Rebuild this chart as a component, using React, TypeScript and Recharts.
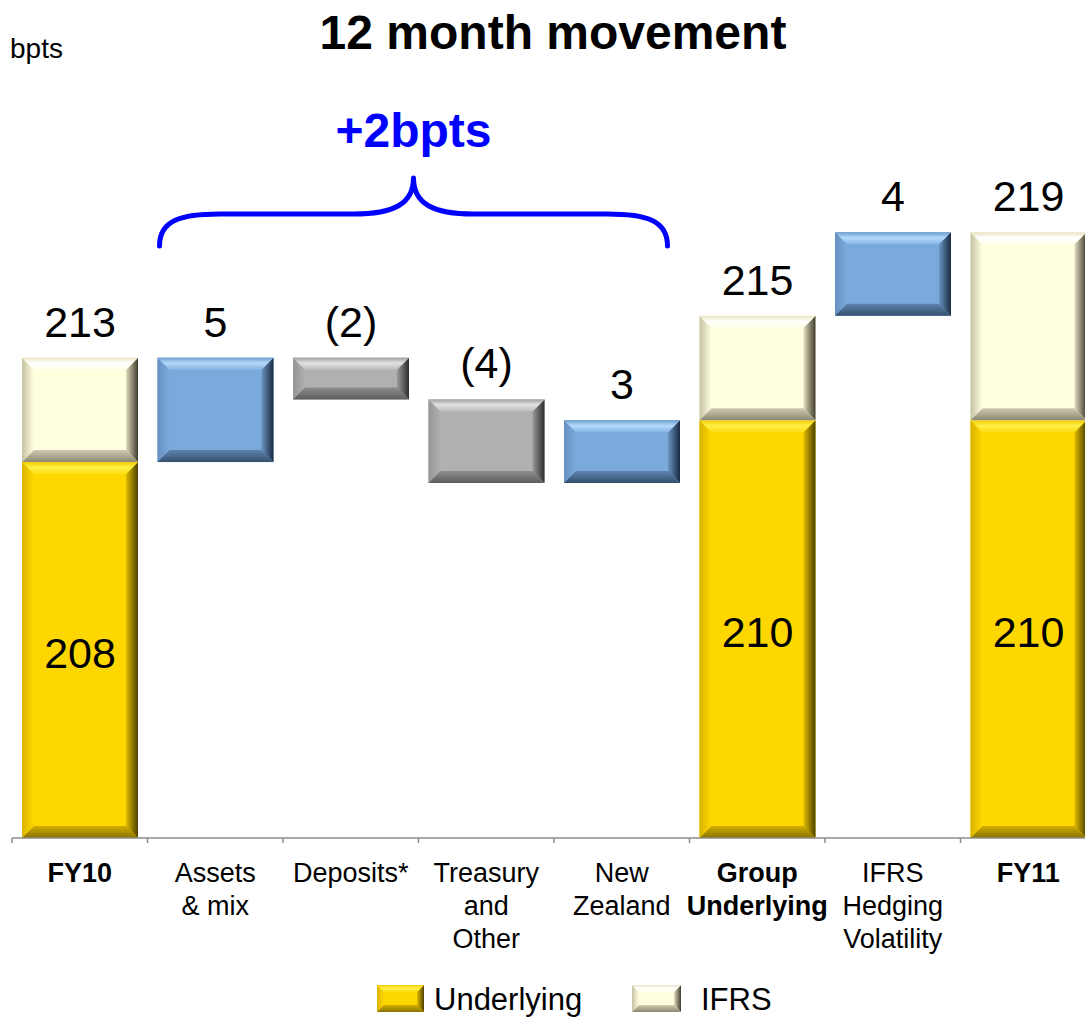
import React from "react";
import { BarChart, Bar, XAxis, YAxis, LabelList } from "recharts";

// 12 month movement waterfall, bpts
const categories = [
  "FY10",
  "Assets & mix",
  "Deposits*",
  "Treasury and Other",
  "New Zealand",
  "Group Underlying",
  "IFRS Hedging Volatility",
  "FY11",
];
const categoryLines = [
  ["FY10"],
  ["Assets", "& mix"],
  ["Deposits*"],
  ["Treasury", "and", "Other"],
  ["New", "Zealand"],
  ["Group", "Underlying"],
  ["IFRS", "Hedging", "Volatility"],
  ["FY11"],
];
const boldCategories = ["FY10", "Group Underlying", "FY11"];

const underlying = [208, null, null, null, null, 210, null, 210];
const ifrs = [5, null, null, null, null, 5, null, 9];
const movements = [null, 5, -2, -4, 3, null, 4, null];
// IFRS hedging sits on top of the full total, the others move the underlying level
const movementOnTotal = [false, false, false, false, false, false, true, false];

const AXIS_MIN = 190;
const AXIS_MAX = 225;

const CHART_W = 1100;
const CHART_H = 1022;
const MARGIN = { top: 107, right: 4, left: 12, bottom: 64 };
const XAXIS_H = 120;
const AXIS_Y = CHART_H - MARGIN.bottom - XAXIS_H;
const BAND = (CHART_W - MARGIN.left - MARGIN.right) / categories.length;
const FONT = "'Liberation Sans', Arial, Helvetica, sans-serif";

type Kind = "under" | "ifrs" | "up" | "down";

let level = 0;
let total = 0;
const rows = categories.map((name, i) => {
  const u = underlying[i];
  if (u != null) {
    level = u;
    total = u + (ifrs[i] ?? 0);
    return {
      name,
      main: [AXIS_MIN, u],
      cap: [u, total],
      kind: "under" as Kind,
      inner: String(u),
      top: String(total),
    };
  }
  const m = movements[i] as number;
  const start = movementOnTotal[i] ? total : level;
  const end = start + m;
  if (movementOnTotal[i]) total = end;
  else level = end;
  return {
    name,
    main: [Math.min(start, end), Math.max(start, end)],
    cap: null,
    kind: (m >= 0 ? "up" : "down") as Kind,
    inner: "",
    top: m >= 0 ? String(m) : `(${-m})`,
  };
});

const palette: Record<Kind, { base: string; top: [string, string, string]; left: [string, string]; right: [string, string]; bottom: [string, string] }> = {
  under: {
    base: "#FFD700",
    top: ["#F2CC00", "#FFF04A", "#FFDD10"],
    left: ["#D9B400", "#FFD700"],
    right: ["#E0BC00", "#4E4000"],
    bottom: ["#D0AE00", "#8A7200"],
  },
  ifrs: {
    base: "#FFFFE0",
    top: ["#E8E4C4", "#FFFFFF", "#FFFFE8"],
    left: ["#C6C2A4", "#FFFFE0"],
    right: ["#E2DEC0", "#403C2E"],
    bottom: ["#CFCBB0", "#8C8872"],
  },
  up: {
    base: "#7AAADC",
    top: ["#6E9CCC", "#B4DAFA", "#86B4E4"],
    left: ["#6890C0", "#7AAADC"],
    right: ["#6A94C2", "#1A2A40"],
    bottom: ["#5E82AE", "#34506E"],
  },
  down: {
    base: "#B0B0B0",
    top: ["#A0A0A0", "#E2E2E2", "#BBBBBB"],
    left: ["#959595", "#B0B0B0"],
    right: ["#9A9A9A", "#2C2C2C"],
    bottom: ["#8E8E8E", "#5E5E5E"],
  },
};

const kinds: Kind[] = ["under", "ifrs", "up", "down"];

function GradientDefs() {
  return (
    <svg width={0} height={0} style={{ position: "absolute" }}>
      <defs>
        {kinds.map((k) => {
          const p = palette[k];
          return (
            <React.Fragment key={k}>
              <linearGradient id={`${k}-top`} x1="0" y1="0" x2="0" y2="1">
                <stop offset="0" stopColor={p.top[0]} />
                <stop offset="0.45" stopColor={p.top[1]} />
                <stop offset="1" stopColor={p.top[2]} />
              </linearGradient>
              <linearGradient id={`${k}-left`} x1="0" y1="0" x2="1" y2="0">
                <stop offset="0" stopColor={p.left[0]} />
                <stop offset="1" stopColor={p.left[1]} />
              </linearGradient>
              <linearGradient id={`${k}-right`} x1="0" y1="0" x2="1" y2="0">
                <stop offset="0" stopColor={p.right[0]} />
                <stop offset="1" stopColor={p.right[1]} />
              </linearGradient>
              <linearGradient id={`${k}-bottom`} x1="0" y1="0" x2="0" y2="1">
                <stop offset="0" stopColor={p.bottom[0]} />
                <stop offset="1" stopColor={p.bottom[1]} />
              </linearGradient>
            </React.Fragment>
          );
        })}
      </defs>
    </svg>
  );
}

function Bevel({ x, y, w, h, kind, size = 12 }: { x: number; y: number; w: number; h: number; kind: Kind; size?: number }) {
  if (!(w > 0) || !(h > 0)) return null;
  const b = Math.min(size, h / 3, w / 3);
  const pts = (a: number[][]) => a.map((p) => p.join(",")).join(" ");
  return (
    <g>
      <rect x={x} y={y} width={w} height={h} fill={palette[kind].base} />
      <polygon points={pts([[x, y], [x + b, y + b], [x + b, y + h - b], [x, y + h]])} fill={`url(#${kind}-left)`} />
      <polygon points={pts([[x + w, y], [x + w, y + h], [x + w - b, y + h - b], [x + w - b, y + b]])} fill={`url(#${kind}-right)`} />
      <polygon points={pts([[x, y + h], [x + w, y + h], [x + w - b, y + h - b], [x + b, y + h - b]])} fill={`url(#${kind}-bottom)`} />
      <polygon points={pts([[x, y], [x + w, y], [x + w - b, y + b], [x + b, y + b]])} fill={`url(#${kind}-top)`} />
    </g>
  );
}

const MainShape = (props: any) => {
  const { x, y, width, height, payload } = props;
  const top = Math.min(y, y + height);
  return <Bevel x={x} y={top} w={width} h={Math.abs(height)} kind={payload.kind} />;
};

const CapShape = (props: any) => {
  const { x, y, width, height, payload } = props;
  if (!payload || !payload.cap) return null;
  const top = Math.min(y, y + height);
  return <Bevel x={x} y={top} w={width} h={Math.abs(height)} kind="ifrs" />;
};

const boxOf = (props: any) => {
  const vb = props.viewBox && props.viewBox.width != null ? props.viewBox : props;
  const top = Math.min(vb.y, vb.y + vb.height);
  return { x: vb.x, y: top, w: vb.width, h: Math.abs(vb.height) };
};

const MainLabel = (props: any) => {
  const r = rows[props.index];
  if (!r) return null;
  const { x, y, w, h } = boxOf(props);
  if (r.kind === "under") {
    return (
      <text x={x + w / 2} y={y + h / 2 + 18} textAnchor="middle" fontSize={43} fontFamily={FONT} fill="#000">
        {r.inner}
      </text>
    );
  }
  return (
    <text x={x + w / 2} y={y - 21} textAnchor="middle" fontSize={43} fontFamily={FONT} fill="#000">
      {r.top}
    </text>
  );
};

const CapLabel = (props: any) => {
  const { value } = props;
  if (value == null || value === "") return null;
  const { x, y, w } = boxOf(props);
  return (
    <text x={x + w / 2} y={y - 21} textAnchor="middle" fontSize={43} fontFamily={FONT} fill="#000">
      {value}
    </text>
  );
};

const CategoryTick = (props: any) => {
  const { x, payload } = props;
  const i = payload.index;
  const lines = categoryLines[i] || [payload.value];
  const bold = boldCategories.includes(categories[i]);
  return (
    <g>
      <line x1={x - BAND / 2} x2={x - BAND / 2} y1={AXIS_Y} y2={AXIS_Y + 5} stroke="#8c8c8c" strokeWidth={1.5} />
      {i === categories.length - 1 && (
        <line x1={x + BAND / 2} x2={x + BAND / 2} y1={AXIS_Y} y2={AXIS_Y + 5} stroke="#8c8c8c" strokeWidth={1.5} />
      )}
      <text x={x} y={AXIS_Y + 44} textAnchor="middle" fontSize={27} fontFamily={FONT} fontWeight={bold ? 700 : 400} fill="#000">
        {lines.map((l: string, k: number) => (
          <tspan key={k} x={x} dy={k === 0 ? 0 : 33}>
            {l}
          </tspan>
        ))}
      </text>
    </g>
  );
};

// brace over the underlying movements (Assets & mix .. New Zealand)
function Brace() {
  const x0 = MARGIN.left + BAND + 12;
  const x1 = MARGIN.left + 5 * BAND - 22;
  const mid = (x0 + x1) / 2;
  const yEnd = 246;
  const yBar = 214;
  const yTip = 178;
  const d = [
    `M${x0},${yEnd}`,
    `C${x0},${yBar + 6} ${x0 + 22},${yBar} ${x0 + 60},${yBar}`,
    `L${mid - 60},${yBar}`,
    `C${mid - 20},${yBar} ${mid},${yBar - 10} ${mid},${yTip}`,
    `C${mid},${yBar - 10} ${mid + 20},${yBar} ${mid + 60},${yBar}`,
    `L${x1 - 60},${yBar}`,
    `C${x1 - 22},${yBar} ${x1},${yBar + 6} ${x1},${yEnd}`,
  ].join(" ");
  return (
    <g>
      <path d={d} fill="none" stroke="#0000FF" strokeWidth={5} strokeLinecap="round" strokeLinejoin="round" />
      <text x={mid} y={147} textAnchor="middle" fontSize={48} fontWeight={700} fontFamily={FONT} fill="#0000FF">
        +2bpts
      </text>
    </g>
  );
}

export default function App() {
  return (
    <div
      style={{
        position: "fixed",
        left: 0,
        top: 0,
        width: 1085,
        height: 1022,
        overflow: "hidden",
        background: "#fff",
        fontFamily: FONT,
      }}
    >
      <GradientDefs />
      <BarChart width={CHART_W} height={CHART_H} data={rows} margin={MARGIN} barGap={0}>
        <XAxis
          dataKey="name"
          height={XAXIS_H}
          interval={0}
          axisLine={{ stroke: "#8c8c8c", strokeWidth: 1.5 }}
          tickLine={false}
          tick={<CategoryTick />}
        />
        <XAxis xAxisId="over" dataKey="name" hide />
        <YAxis hide type="number" domain={[AXIS_MIN, AXIS_MAX]} allowDataOverflow />
        <Bar dataKey="main" barSize={116} shape={<MainShape />} isAnimationActive={false}>
          <LabelList dataKey="main" content={<MainLabel />} />
        </Bar>
        <Bar dataKey="cap" xAxisId="over" barSize={116} shape={<CapShape />} isAnimationActive={false}>
          <LabelList dataKey="top" content={<CapLabel />} />
        </Bar>
      </BarChart>
      <svg width={1085} height={1022} style={{ position: "absolute", left: 0, top: 0, pointerEvents: "none" }}>
        <text x={553} y={49} textAnchor="middle" fontSize={48} fontWeight={700} fontFamily={FONT} fill="#000">
          12 month movement
        </text>
        <text x={10} y={58} fontSize={28} fontFamily={FONT} fill="#000">
          bpts
        </text>
        <Brace />
        <g>
          <Bevel x={377} y={985} w={47} h={27} kind="under" size={7} />
          <text x={434} y={1010} fontSize={31} fontFamily={FONT} fill="#000">
            Underlying
          </text>
          <Bevel x={632} y={985} w={49} h={27} kind="ifrs" size={7} />
          <text x={701} y={1010} fontSize={31} fontFamily={FONT} fill="#000">
            IFRS
          </text>
        </g>
      </svg>
    </div>
  );
}
